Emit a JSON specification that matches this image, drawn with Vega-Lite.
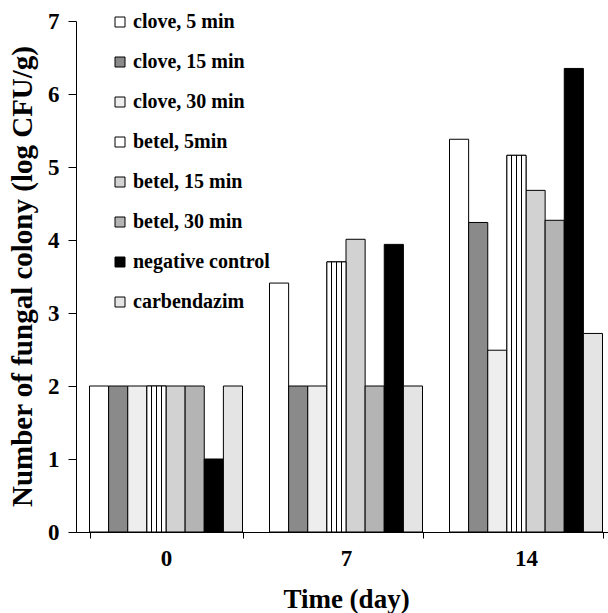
{
  "$schema": "https://vega.github.io/schema/vega-lite/v6.json",
  "width": 532,
  "height": 511,
  "autosize": {"type": "none"},
  "padding": {"left": 76, "top": 21, "right": 0, "bottom": 81},
  "background": "white",
  "config": {
    "view": {"stroke": null},
    "font": "Liberation Serif",
    "axis": {
      "domainColor": "black", "tickColor": "black", "labelColor": "black", "titleColor": "black",
      "labelFont": "Liberation Serif", "titleFont": "Liberation Serif",
      "labelFontWeight": "bold", "titleFontWeight": "bold", "grid": false
    }
  },
  "data": {
    "values": [
      {"day": 0, "treatment": "clove, 5 min", "value": 2},
      {"day": 0, "treatment": "clove, 15 min", "value": 2},
      {"day": 0, "treatment": "clove, 30 min", "value": 2},
      {"day": 0, "treatment": "betel, 5min", "value": 2},
      {"day": 0, "treatment": "betel, 15 min", "value": 2},
      {"day": 0, "treatment": "betel, 30 min", "value": 2},
      {"day": 0, "treatment": "negative control", "value": 1},
      {"day": 0, "treatment": "carbendazim", "value": 2},
      {"day": 7, "treatment": "clove, 5 min", "value": 3.41},
      {"day": 7, "treatment": "clove, 15 min", "value": 2},
      {"day": 7, "treatment": "clove, 30 min", "value": 2},
      {"day": 7, "treatment": "betel, 5min", "value": 3.7},
      {"day": 7, "treatment": "betel, 15 min", "value": 4.01},
      {"day": 7, "treatment": "betel, 30 min", "value": 2},
      {"day": 7, "treatment": "negative control", "value": 3.94},
      {"day": 7, "treatment": "carbendazim", "value": 2},
      {"day": 14, "treatment": "clove, 5 min", "value": 5.38},
      {"day": 14, "treatment": "clove, 15 min", "value": 4.24},
      {"day": 14, "treatment": "clove, 30 min", "value": 2.49},
      {"day": 14, "treatment": "betel, 5min", "value": 5.16},
      {"day": 14, "treatment": "betel, 15 min", "value": 4.68},
      {"day": 14, "treatment": "betel, 30 min", "value": 4.27},
      {"day": 14, "treatment": "negative control", "value": 6.35},
      {"day": 14, "treatment": "carbendazim", "value": 2.72}
    ]
  },
  "encoding": {
    "x": {
      "field": "day", "type": "ordinal", "sort": "ascending",
      "scale": {"range": [0, 540], "paddingInner": 0.15, "paddingOuter": 0.075},
      "axis": {
        "title": "Time (day)", "labelAngle": 0, "tickBand": "extent", "tickSize": 6,
        "labelFontSize": 23, "labelPadding": 9, "titleFontSize": 27,
        "titleY": 75, "titleBaseline": "alphabetic"
      }
    },
    "xOffset": {
      "field": "treatment", "type": "nominal",
      "scale": {
        "domain": ["clove, 5 min", "clove, 15 min", "clove, 30 min", "betel, 5min", "betel, 15 min", "betel, 30 min", "negative control", "carbendazim"],
        "paddingInner": 0, "paddingOuter": 0
      }
    },
    "y": {
      "field": "value", "type": "quantitative",
      "scale": {"domain": [0, 7], "nice": false},
      "axis": {
        "title": "Number of fungal colony (log CFU/g)", "values": [0, 1, 2, 3, 4, 5, 6, 7],
        "tickSize": 8, "labelFontSize": 23, "labelPadding": 9,
        "titleFontSize": 29, "titleX": -45, "titleY": 255, "titleBaseline": "alphabetic"
      }
    }
  },
  "layer": [
    {
      "mark": {"type": "bar", "stroke": "black", "strokeWidth": 1, "opacity": 1},
      "encoding": {
        "color": {
          "field": "treatment", "type": "nominal",
          "scale": {
            "domain": ["clove, 5 min", "clove, 15 min", "clove, 30 min", "betel, 5min", "betel, 15 min", "betel, 30 min", "negative control", "carbendazim"],
            "range": ["#ffffff", "#8a8a8a", "#eeeeee", "#ffffff", "#d2d2d2", "#b4b4b4", "#000000", "#e4e4e4"]
          },
          "legend": {
            "orient": "none", "legendX": 34, "legendY": -9, "title": null, "padding": 0,
            "labelFont": "Liberation Serif", "labelFontSize": 20, "labelFontWeight": "bold", "labelColor": "black",
            "symbolType": "square", "symbolSize": 100, "symbolStrokeColor": "black", "symbolStrokeWidth": 1,
            "symbolOpacity": 1, "rowPadding": 20, "labelOffset": 3
          }
        }
      }
    },
    {
      "transform": [{"filter": "datum.treatment == 'betel, 5min'"}],
      "mark": {
        "type": "bar", "stroke": "black", "strokeWidth": 1, "opacity": 1,
        "fill": {"gradient": "linear", "x1": 0, "y1": 0, "x2": 1, "y2": 0, "stops": [
          {"offset": 0, "color": "white"}, {"offset": 0.23, "color": "white"},
          {"offset": 0.23, "color": "black"}, {"offset": 0.28, "color": "black"},
          {"offset": 0.28, "color": "white"}, {"offset": 0.48, "color": "white"},
          {"offset": 0.48, "color": "black"}, {"offset": 0.53, "color": "black"},
          {"offset": 0.53, "color": "white"}, {"offset": 0.73, "color": "white"},
          {"offset": 0.73, "color": "black"}, {"offset": 0.78, "color": "black"},
          {"offset": 0.78, "color": "white"}, {"offset": 1, "color": "white"}
        ]}
      }
    }
  ]
}
